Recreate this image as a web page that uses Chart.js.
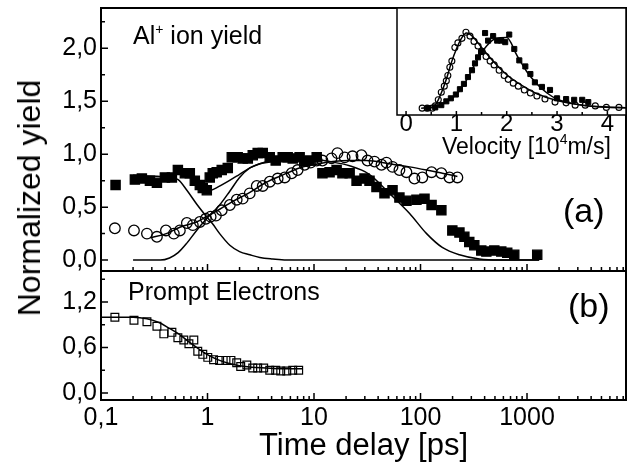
<!DOCTYPE html>
<html>
<head>
<meta charset="utf-8">
<title>Al+ ion yield and prompt electrons vs time delay</title>
<script src="https://cdn.jsdelivr.net/npm/chart.js@4.4.1/dist/chart.umd.min.js"></script>
<style>
  body { margin: 0; background: #fff; }
  #wrap { position: relative; width: 630px; height: 470px; font-family: "Liberation Sans", Arial, sans-serif; color: #000; }
  #wrap canvas { position: absolute; left: 0; top: 0; }
  .lbl { position: absolute; white-space: nowrap; line-height: 1; }
  .lbl sup { font-size: 14px; vertical-align: 10px; }
  #yTitle { left: 29px; top: 198px; font-size: 32px; transform: translate(-50%, -50%) rotate(-90deg); }
</style>
</head>
<body>
<div id="wrap">
  <canvas id="chartA" width="630" height="470"></canvas>
  <canvas id="chartB" width="630" height="470"></canvas>
  <canvas id="chartInset" width="630" height="470"></canvas>
  <div class="lbl" id="yTitle">Normalized yield</div>
  <div class="lbl" style="left:133px; top:22px; font-size:25px;">Al<sup>+</sup> ion yield</div>
  <div class="lbl" style="left:442px; top:132px; font-size:23px;">Velocity [10<sup>4</sup>m/s]</div>
  <div class="lbl" style="left:563px; top:193px; font-size:34px;">(a)</div>
  <div class="lbl" style="left:128px; top:279px; font-size:25px;">Prompt Electrons</div>
  <div class="lbl" style="left:568px; top:288px; font-size:34px;">(b)</div>
</div>
<script>
// ---- panel (a): Al+ ion yield, filled squares
const ionTimeSq = [0.137, 0.208, 0.242, 0.288, 0.335, 0.398, 0.463, 0.527, 0.613, 0.682, 0.760, 0.847, 0.903, 0.985,
  1.05, 1.12, 1.22, 1.36, 1.55, 1.69, 1.92, 2.14, 2.39, 2.66, 2.96, 3.30, 3.84, 4.37, 5.08, 5.66, 6.31, 7.33, 8.17, 9.10,
  10.6, 12.0, 14.0, 16.3, 18.5, 21.6, 25.1, 29.8, 33.2, 38.6, 45.9, 54.6, 63.4, 73.8, 91.6, 109, 127, 157, 199, 232,
  258, 287, 320, 372, 415, 493, 573, 652, 759, 1247];
const ionYieldSq = [0.71, 0.76, 0.77, 0.75, 0.73, 0.78, 0.78, 0.85, 0.82, 0.82, 0.75, 0.71, 0.68, 0.66,
  0.78, 0.82, 0.83, 0.85, 0.87, 0.97, 0.97, 0.96, 0.96, 0.99, 1.01, 1.01, 0.97, 0.94, 0.97, 0.97, 0.96, 0.97, 0.93, 0.94,
  0.97, 0.82, 0.83, 0.85, 0.82, 0.82, 0.75, 0.77, 0.75, 0.69, 0.63, 0.66, 0.59, 0.56, 0.57, 0.58, 0.52, 0.47, 0.28, 0.26,
  0.22, 0.17, 0.14, 0.09, 0.08, 0.09, 0.08, 0.07, 0.05, 0.05];

// panel (a): open circles
const ionTimeCi = [0.135, 0.204, 0.270, 0.335, 0.407, 0.483, 0.550, 0.640, 0.728, 0.847, 0.964, 1.07, 1.20, 1.36,
  1.62, 1.88, 2.14, 2.49, 2.90, 3.30, 3.84, 4.56, 5.31, 6.17, 7.02, 8.17, 9.29, 10.6, 12.0, 14.6, 16.6, 19.4, 23.0,
  27.9, 31.8, 37.0, 43.0, 47.9, 54.6, 63.4, 73.8, 87.7, 104, 127, 157, 187, 222];
const ionYieldCi = [0.30, 0.28, 0.25, 0.22, 0.28, 0.25, 0.28, 0.35, 0.33, 0.36, 0.39, 0.41, 0.42, 0.47,
  0.52, 0.57, 0.58, 0.63, 0.70, 0.70, 0.74, 0.77, 0.78, 0.82, 0.85, 0.90, 0.92, 0.94, 0.94, 0.96, 1.01, 0.97, 0.98,
  0.99, 0.94, 0.93, 0.90, 0.92, 0.88, 0.85, 0.83, 0.77, 0.78, 0.83, 0.82, 0.78, 0.78];

// panel (a): fit curves
const fastTime = [0.2, 0.36, 0.44, 0.53, 0.64, 0.79, 0.98, 1.12, 1.3, 1.62, 2.0, 2.5, 3.1, 4.1, 5.5, 10, 100, 1300];
const fastFit = [0.80, 0.79, 0.78, 0.76, 0.66, 0.53, 0.41, 0.34, 0.25, 0.14, 0.08, 0.05, 0.025, 0.01, 0, 0, 0, 0];
const slowTime = [0.2, 0.36, 0.44, 0.53, 0.64, 0.79, 0.98, 1.12, 1.3, 1.62, 2.0, 2.5, 3.1, 4.1, 5.5, 7.3, 10, 14,
  21.6, 33, 51, 79, 114, 160, 232, 357, 550, 1300];
const slowFit = [0, 0, 0.02, 0.07, 0.16, 0.28, 0.39, 0.45, 0.52, 0.65, 0.78, 0.87, 0.91, 0.94, 0.95, 0.95, 0.95, 0.93,
  0.89, 0.81, 0.63, 0.44, 0.25, 0.12, 0.05, 0.01, 0, 0];
const sumTime = [0.98, 1.2, 1.6, 2.0, 2.5, 3.1, 4.1];
const sumFit = [0.64, 0.68, 0.75, 0.81, 0.87, 0.91, 0.93];
const circFitTime = [0.29, 0.41, 0.55, 0.79, 0.98, 1.3, 1.7, 2.5, 3.5, 5, 7.3, 10, 15, 21.6, 31, 51, 79, 114, 160, 222];
const circFit = [0.21, 0.25, 0.31, 0.36, 0.41, 0.48, 0.55, 0.64, 0.73, 0.80, 0.87, 0.90, 0.93, 0.94, 0.94, 0.91, 0.88,
  0.85, 0.82, 0.79];

// ---- panel (b): prompt electrons
const promptTime = [0.135, 0.204, 0.270, 0.335, 0.389, 0.463, 0.527, 0.599, 0.669, 0.744, 0.810, 0.903, 1.006, 1.14,
  1.30, 1.49, 1.66, 1.88, 2.05, 2.34, 2.66, 2.96, 3.37, 3.84, 4.37, 4.87, 5.55, 6.31, 7.18];
const promptYield = [1.00, 0.96, 0.94, 0.88, 0.78, 0.80, 0.73, 0.70, 0.65, 0.70, 0.55, 0.51, 0.47, 0.44,
  0.43, 0.43, 0.43, 0.40, 0.35, 0.37, 0.33, 0.33, 0.33, 0.30, 0.30, 0.29, 0.29, 0.30, 0.30];
const promptFitTime = [0.1, 0.2, 0.27, 0.35, 0.43, 0.56, 0.69, 0.85, 1.05, 1.3, 1.6, 2.0, 2.6, 3.5, 5, 7.8];
const promptFit = [1.0, 1.0, 0.98, 0.93, 0.86, 0.76, 0.66, 0.57, 0.49, 0.43, 0.39, 0.36, 0.34, 0.33, 0.32, 0.32];

// ---- inset: velocity distributions
const velCi = [0.32, 0.42, 0.52, 0.58, 0.64, 0.70, 0.76, 0.80, 0.83, 0.87, 0.91, 0.97, 1.03, 1.11, 1.19, 1.27, 1.35,
  1.43, 1.51, 1.59, 1.67, 1.75, 1.85, 1.95, 2.03, 2.13, 2.23, 2.35, 2.47, 2.60, 2.76, 2.96, 3.18, 3.36, 3.56, 3.76,
  3.98, 4.23];
const distCi = [0, 0, 0, 0.03, 0.11, 0.21, 0.29, 0.36, 0.43, 0.54, 0.62, 0.80, 0.86, 0.92, 1.00, 0.95, 0.88,
  0.82, 0.75, 0.68, 0.62, 0.57, 0.50, 0.43, 0.38, 0.33, 0.29, 0.24, 0.20, 0.16, 0.12, 0.08, 0.07, 0.04, 0.04, 0.03,
  0.01, 0.01];
const velSq = [0.44, 0.58, 0.70, 0.80, 0.89, 0.99, 1.07, 1.15, 1.23, 1.31, 1.37, 1.43, 1.49, 1.57, 1.63, 1.73, 1.81,
  1.89, 1.97, 2.05, 2.15, 2.25, 2.37, 2.47, 2.56, 2.70, 2.86, 3.00, 3.18, 3.34, 3.50, 3.62];
const distSq = [0, 0.01, 0.04, 0.09, 0.13, 0.18, 0.25, 0.32, 0.41, 0.50, 0.59, 0.67, 0.74, 0.99, 0.89, 0.95, 0.89,
  0.89, 0.87, 0.97, 0.78, 0.63, 0.55, 0.45, 0.34, 0.28, 0.24, 0.13, 0.12, 0.11, 0.11, 0.08];
const fitVelCi = [0.3, 0.5, 0.6, 0.7, 0.8, 0.9, 1.0, 1.1, 1.2, 1.3, 1.5, 1.7, 2.0, 2.3, 2.6, 3.0, 3.5, 4.0, 4.4];
const fitDistCi = [0, 0.01, 0.06, 0.2, 0.38, 0.6, 0.78, 0.92, 0.99, 0.96, 0.8, 0.64, 0.44, 0.3, 0.19, 0.1, 0.04, 0.015, 0.005];
const fitVelSq = [0.4, 0.6, 0.8, 1.0, 1.2, 1.4, 1.6, 1.8, 2.0, 2.2, 2.4, 2.6, 2.8, 3.0, 3.4, 3.8, 4.4];
const fitDistSq = [0, 0.02, 0.08, 0.18, 0.37, 0.62, 0.82, 0.92, 0.93, 0.70, 0.48, 0.32, 0.2, 0.12, 0.05, 0.02, 0.005];

// ---- ticks
const timeMajor = [0.1, 1, 10, 100, 1000];
const yTicksA = [0, 0.5, 1.0, 1.5, 2.0];
const yMinorA = [0.25, 0.75, 1.25, 1.75, 2.25];
const yTicksB = [0, 0.6, 1.2];
const yMinorB = [0.3, 0.9, 1.5];
const velMajor = [0, 1, 2, 3, 4];
const velMinor = [0.5, 1.5, 2.5, 3.5];
const timeMinor = [];
timeMajor.forEach(d => { for (let k = 2; k <= 9; k++) timeMinor.push(d * k); });

Chart.defaults.font.family = '"Liberation Sans", Arial, sans-serif';
Chart.defaults.color = '#000';

const fmt1 = v => v.toFixed(1).replace('.', ',');

// inward ticks + frame, drawn on the scales of each chart
const frameTicks = {
  id: 'frameTicks',
  beforeDatasetsDraw(chart, args, o) {
    if (!o.fill) return;
    const a = chart.chartArea;
    chart.ctx.save();
    chart.ctx.fillStyle = o.fill;
    chart.ctx.fillRect(a.left, a.top, a.width, a.height);
    chart.ctx.restore();
  },
  afterDatasetsDraw(chart, args, o) {
    const { ctx, chartArea: a, scales } = chart;
    ctx.save();
    ctx.strokeStyle = '#000';
    ctx.lineWidth = 1.5;
    ctx.beginPath();
    const xt = (list, len) => (list || []).forEach(v => {
      const p = scales.x.getPixelForValue(v);
      if (p < a.left - 1 || p > a.right + 1) return;
      ctx.moveTo(p, a.bottom); ctx.lineTo(p, a.bottom - len);
    });
    const yt = (list, len) => (list || []).forEach(v => {
      const p = scales.y.getPixelForValue(v);
      if (p < a.top - 1 || p > a.bottom + 1) return;
      ctx.moveTo(a.left, p); ctx.lineTo(a.left + len, p);
    });
    xt(o.xMajor, o.major); xt(o.xMinor, o.minor);
    yt(o.yMajor, o.major); yt(o.yMinor, o.minor);
    ctx.stroke();
    ctx.lineWidth = o.frame || 2;
    ctx.strokeRect(a.left, a.top, a.width, a.height);
    ctx.restore();
  }
};

function pts(xs, ys) { return xs.map((x, i) => ({ x: x, y: ys[i] })); }
function fitLine(xs, ys) {
  return { data: pts(xs, ys), showLine: true, pointRadius: 0, borderColor: '#000', borderWidth: 1.5,
    cubicInterpolationMode: 'monotone', fill: false };
}
function marks(xs, ys, style, r, filled, bw) {
  return { data: pts(xs, ys), showLine: false, pointStyle: style, pointRadius: r, pointBorderWidth: bw || 1.3,
    pointBorderColor: '#000', pointBackgroundColor: filled ? '#000' : 'rgba(0,0,0,0)' };
}

const common = {
  responsive: false, animation: false, devicePixelRatio: 1,
  events: [],
  plugins: { legend: { display: false }, tooltip: { enabled: false } }
};
const tickFont = { size: 25 };
const noPad = s => { s.paddingTop = 0; s.paddingBottom = 0; s.paddingLeft = 0; s.paddingRight = 0; };

// panel (a)
new Chart(document.getElementById('chartA'), {
  type: 'scatter',
  data: {
    datasets: [
      fitLine(fastTime, fastFit),
      fitLine(slowTime, slowFit),
      fitLine(sumTime, sumFit),
      fitLine(circFitTime, circFit),
      marks(ionTimeCi, ionYieldCi, 'circle', 5.3, false),
      marks(ionTimeSq, ionYieldSq, 'rect', 6.5, true)
    ]
  },
  options: Object.assign({}, common, {
    layout: { autoPadding: false, padding: { left: 0, top: 8, right: 4, bottom: 199 } },
    plugins: Object.assign({}, common.plugins, {
      frameTicks: { xMajor: timeMajor, xMinor: timeMinor, yMajor: yTicksA, yMinor: yMinorA, major: 7, minor: 4 }
    }),
    scales: {
      x: { type: 'logarithmic', min: 0.1, max: 8500, display: false },
      y: {
        min: -0.103, max: 2.38,
        afterBuildTicks: s => { s.ticks = yTicksA.map(v => ({ value: v })); },
        afterFit: s => { s.width = 101; noPad(s); },
        grid: { display: false, drawTicks: false }, border: { display: false },
        ticks: { padding: 4, font: tickFont, callback: v => fmt1(v) }
      }
    }
  }),
  plugins: [frameTicks]
});

// panel (b)
new Chart(document.getElementById('chartB'), {
  type: 'scatter',
  data: {
    datasets: [
      fitLine(promptFitTime, promptFit),
      marks(promptTime, promptYield, 'rect', 5.5, false, 1.2)
    ]
  },
  options: Object.assign({}, common, {
    layout: { autoPadding: false, padding: { left: 0, top: 271, right: 4, bottom: 0 } },
    plugins: Object.assign({}, common.plugins, {
      frameTicks: { xMajor: timeMajor, xMinor: timeMinor, yMajor: yTicksB, yMinor: yMinorB, major: 7, minor: 4 }
    }),
    scales: {
      x: {
        type: 'logarithmic', min: 0.1, max: 8500,
        afterBuildTicks: s => { s.ticks = timeMajor.map(v => ({ value: v })); },
        afterFit: s => { s.height = 70; noPad(s); },
        grid: { display: false, drawTicks: false }, border: { display: false },
        ticks: { padding: 3, font: tickFont, autoSkip: false, maxRotation: 0, callback: v => String(v).replace('.', ',') },
        title: { display: true, text: 'Time delay [ps]', font: { size: 31 }, padding: { top: 0, bottom: 5 } }
      },
      y: {
        min: -0.092, max: 1.609,
        afterBuildTicks: s => { s.ticks = yTicksB.map(v => ({ value: v })); },
        afterFit: s => { s.width = 101; noPad(s); },
        grid: { display: false, drawTicks: false }, border: { display: false },
        ticks: { padding: 4, font: tickFont, callback: v => fmt1(v) }
      }
    }
  }),
  plugins: [frameTicks]
});

// inset: velocity distributions (axis title is the HTML label above)
new Chart(document.getElementById('chartInset'), {
  type: 'scatter',
  data: {
    datasets: [
      fitLine(fitVelCi, fitDistCi),
      fitLine(fitVelSq, fitDistSq),
      marks(velCi, distCi, 'circle', 3, false, 1.1),
      marks(velSq, distSq, 'rect', 3.6, true, 1)
    ]
  },
  options: Object.assign({}, common, {
    layout: { autoPadding: false, padding: { left: 397, top: 8, right: 4, bottom: 305 } },
    plugins: Object.assign({}, common.plugins, {
      frameTicks: { fill: '#fff', xMajor: velMajor, xMinor: velMinor, major: 4, minor: 3, frame: 1.5 }
    }),
    scales: {
      x: {
        min: -0.18, max: 4.37,
        afterBuildTicks: s => { s.ticks = velMajor.map(v => ({ value: v })); },
        afterFit: s => { s.height = 50; noPad(s); },
        grid: { display: false, drawTicks: false }, border: { display: false },
        ticks: { padding: -5, font: { size: 24 }, autoSkip: false, maxRotation: 0 }
      },
      y: { min: -0.09, max: 1.32, display: false }
    }
  }),
  plugins: [frameTicks]
});
</script>
</body>
</html>
